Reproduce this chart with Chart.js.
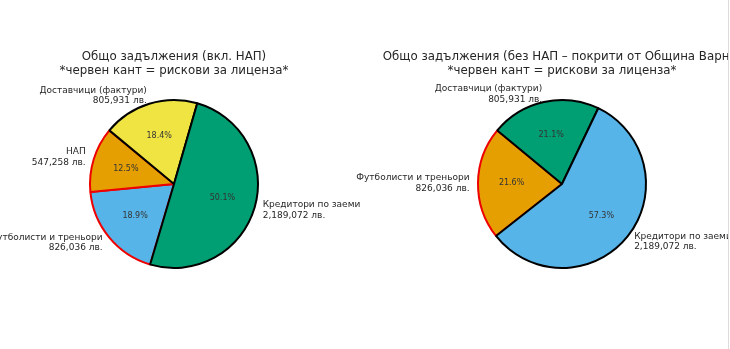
<!DOCTYPE html>
<html>
<head>
<meta charset="utf-8">
<script src="https://cdn.jsdelivr.net/npm/chart.js@4.4.0/dist/chart.umd.min.js"></script>
<style>
  body { margin: 0; background: #fff; overflow: hidden; }
  #wrap { position: relative; width: 730px; height: 349px; }
  canvas { position: absolute; top: 0; }
  #edge { position: absolute; left: 728px; top: 0; width: 1px; height: 349px; background: #dcdcdc; }
</style>
</head>
<body>
<div id="wrap">
  <canvas id="leftPie" width="365" height="349" style="left:0"></canvas>
  <canvas id="rightPie" width="388" height="349" style="left:340px"></canvas>
  <div id="edge"></div>
</div>
<script>
// left: all debts incl. NAP
const leftTitle = ['Общо задължения (вкл. НАП)', '*червен кант = рискови за лиценза*'];
const leftCats = ['Футболисти и треньори', 'НАП', 'Доставчици (фактури)', 'Кредитори по заеми'];
const leftValues = [826036, 547258, 805931, 2189072];
const leftRisky = [true, true, false, false];
const leftColors = ['#56B4E9', '#E69F00', '#F0E442', '#009E73'];

// right: without NAP
const rightTitle = ['Общо задължения (без НАП – покрити от Община Варна)', '*червен кант = рискови за лиценза*'];
const rightCats = ['Футболисти и треньори', 'Доставчици (фактури)', 'Кредитори по заеми'];
const rightValues = [826036, 805931, 2189072];
const rightRisky = [true, false, false];
const rightColors = ['#E69F00', '#009E73', '#56B4E9'];

const FONT = '"DejaVu Sans", sans-serif';

// outside labels, percentages and the title, matplotlib style
const pieText = {
  id: 'pieText',
  afterDraw(chart, args, opts) {
    const ctx = chart.ctx;
    const meta = chart.getDatasetMeta(0);
    const values = chart.data.datasets[0].data;
    const total = values.reduce((a, b) => a + b, 0);
    ctx.save();
    let cx = 0, cy = 0, r = 0;
    meta.data.forEach((arc, i) => {
      const p = arc.getProps(['x', 'y', 'startAngle', 'endAngle', 'outerRadius'], true);
      cx = p.x; cy = p.y; r = p.outerRadius;
      const mid = (p.startAngle + p.endAngle) / 2;
      // percentage
      ctx.fillStyle = '#333';
      ctx.font = '8px ' + FONT;
      ctx.textAlign = 'center';
      ctx.textBaseline = 'middle';
      ctx.fillText((values[i] / total * 100).toFixed(1) + '%',
        p.x + Math.cos(mid) * r * 0.6, p.y + Math.sin(mid) * r * 0.6);
      // outside label
      const lx = p.x + Math.cos(mid) * r * 1.1;
      const ly = p.y + Math.sin(mid) * r * 1.1;
      ctx.fillStyle = '#262626';
      ctx.font = '9px ' + FONT;
      ctx.textAlign = Math.cos(mid) < 0 ? 'right' : 'left';
      const lines = [chart.data.labels[i], values[i].toLocaleString('en-US') + ' лв.'];
      ctx.fillText(lines[0], lx, ly - 5.4);
      ctx.fillText(lines[1], lx, ly + 5.4);
    });
    // title
    ctx.fillStyle = '#262626';
    ctx.font = '11.8px ' + FONT;
    ctx.textAlign = 'center';
    ctx.textBaseline = 'middle';
    ctx.fillText(opts.title[0], cx, cy - r - 43);
    ctx.fillText(opts.title[1], cx, cy - r - 29);
    ctx.restore();
  }
};

function makePie(id, cats, values, colors, risky, title, padLeft, padRight, rotation) {
  return new Chart(document.getElementById(id), {
    type: 'pie',
    data: {
      labels: cats,
      datasets: [{
        data: values,
        backgroundColor: colors,
        borderColor: risky.map(v => v ? '#ee0000' : '#000000'),
        borderWidth: 2,
        hoverOffset: 0,
        offset: 0
      }]
    },
    options: {
      responsive: false,
      animation: false,
      devicePixelRatio: 1,
      rotation: rotation,
      layout: { padding: { left: padLeft, right: padRight, top: 99, bottom: 80 } },
      plugins: {
        legend: { display: false },
        tooltip: { enabled: false },
        pieText: { title: title }
      }
    },
    plugins: [pieText]
  });
}

makePie('leftPie', leftCats, leftValues, leftColors, leftRisky, leftTitle, 89, 106, 196.5);
makePie('rightPie', rightCats, rightValues, rightColors, rightRisky, rightTitle, 137, 81, 231.8);
</script>
</body>
</html>
